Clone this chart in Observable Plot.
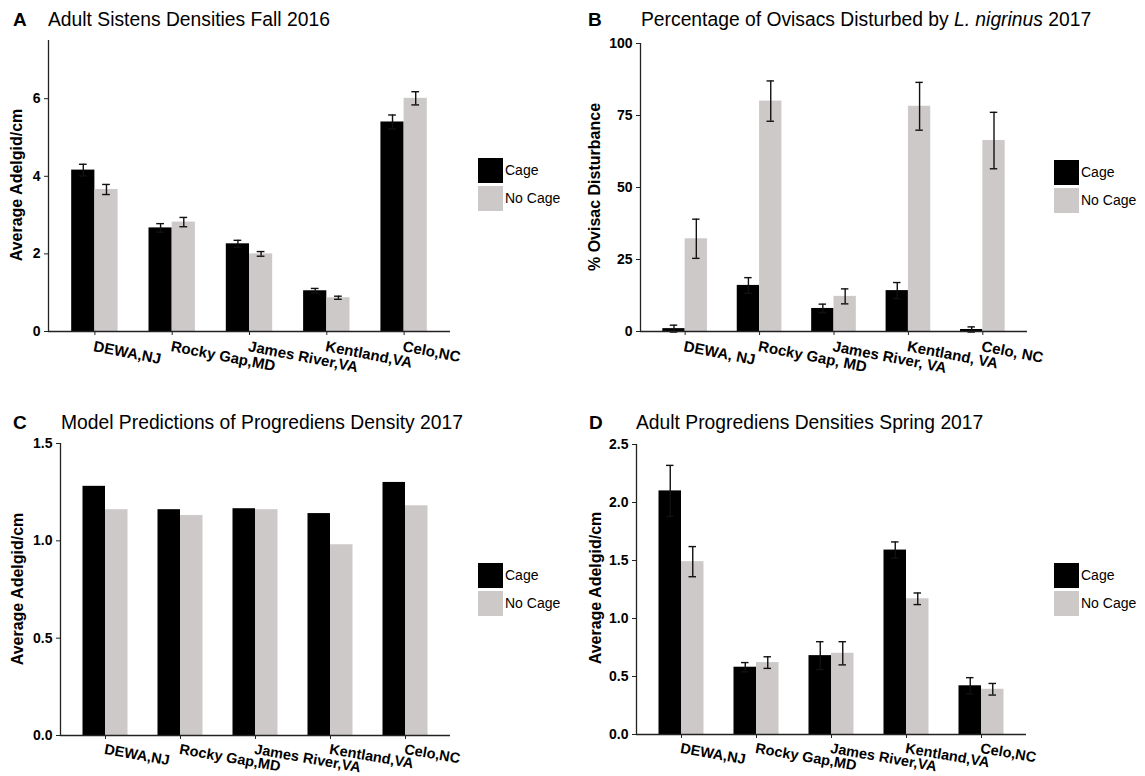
<!DOCTYPE html>
<html><head><meta charset="utf-8">
<script src="https://cdn.jsdelivr.net/npm/d3@7"></script>
<script src="https://cdn.jsdelivr.net/npm/@observablehq/plot@0.6"></script>
<style>
body{margin:0;background:#fff;}
#root{position:relative;width:1145px;height:776px;background:#fff;font-family:"Liberation Sans",Arial,sans-serif;color:#000;overflow:hidden}
.abs{position:absolute;white-space:nowrap}
.letter{font-weight:bold;font-size:19px;line-height:19px}
.title{font-size:19.3px;line-height:19px}
.ylab{font-weight:bold;font-size:16px;line-height:16px;transform:translate(-50%,-50%) rotate(-90deg)}
.key{position:absolute;width:25px;height:25px}
.ltxt{font-size:14px;line-height:25px;height:25px}
.panel{position:absolute}
</style></head><body><div id="root"></div>
<script>
// ---------- data ----------
const treatments = ["Cage", "No Cage"];
const treatmentColors = ["#000000", "#cdc9c9"];
const sitesCompact = ["DEWA,NJ", "Rocky Gap,MD", "James River,VA", "Kentland,VA", "Celo,NC"];
const sitesSpaced = ["DEWA, NJ", "Rocky Gap, MD", "James River, VA", "Kentland, VA", "Celo, NC"];

// A: Adult Sistens Densities Fall 2016
const sistensCage = [4.16, 2.67, 2.26, 1.05, 5.40];
const sistensCageSE = [0.15, 0.11, 0.09, 0.06, 0.18];
const sistensNoCage = [3.66, 2.82, 2.00, 0.87, 6.01];
const sistensNoCageSE = [0.13, 0.12, 0.06, 0.04, 0.17];

// B: Percentage of Ovisacs Disturbed 2017
const ovisacCage = [1.0, 16.0, 8.0, 14.2, 0.7];
const ovisacCageSE = [1.2, 2.7, 1.5, 2.8, 0.9];
const ovisacNoCage = [32.2, 80.0, 12.2, 78.2, 66.3];
const ovisacNoCageSE = [6.8, 7.0, 2.6, 8.3, 9.8];

// C: Model Predictions of Progrediens Density 2017
const modelCage = [1.28, 1.16, 1.165, 1.14, 1.30];
const modelNoCage = [1.16, 1.13, 1.16, 0.98, 1.18];

// D: Adult Progrediens Densities Spring 2017
const progCage = [2.10, 0.58, 0.68, 1.59, 0.42];
const progCageSE = [0.22, 0.04, 0.12, 0.07, 0.07];
const progNoCage = [1.49, 0.62, 0.70, 1.17, 0.39];
const progNoCageSE = [0.13, 0.05, 0.10, 0.05, 0.05];

const yTicksA = [0, 2, 4, 6];
const yTicksB = [0, 25, 50, 75, 100];
const yTicksC = [0, 0.5, 1.0, 1.5];
const yTicksD = [0, 0.5, 1.0, 1.5, 2.0, 2.5];

const titles = [
  {letter: "A", html: "Adult Sistens Densities Fall 2016"},
  {letter: "B", html: "Percentage of Ovisacs Disturbed by <i>L. nigrinus</i> 2017"},
  {letter: "C", html: "Model Predictions of Progrediens Density 2017"},
  {letter: "D", html: "Adult Progrediens Densities Spring 2017"}
];
const yLabels = ["Average Adelgid/cm", "% Ovisac Disturbance", "Average Adelgid/cm", "Average Adelgid/cm"];

// ---------- helpers ----------
function buildRows(sites, cage, noCage, cageSE, noCageSE) {
  return sites.flatMap((s, k) => [
    {site: s, i: k + 1, t: treatments[0], v: cage[k], se: cageSE ? cageSE[k] : null},
    {site: s, i: k + 1, t: treatments[1], v: noCage[k], se: noCageSE ? noCageSE[k] : null}
  ]);
}
const HALF = 0.3, CAP = 0.05;
const left = d => d.t === treatments[0] ? d.i - HALF : d.i;
const right = d => d.t === treatments[0] ? d.i : d.i + HALF;
const center = d => d.t === treatments[0] ? d.i - HALF / 2 : d.i + HALF / 2;

function panel({sites, rows, yDomain, yTicks, yFormat, width, height, ml, mr, mt, mb, labSize, labRot, labDy}) {
  const withSE = rows.filter(d => d.se != null);
  const errStyle = {stroke: "#111", strokeWidth: 1.4};
  return Plot.plot({
    width, height, marginLeft: ml, marginRight: mr, marginTop: mt, marginBottom: mb,
    style: {fontFamily: "Liberation Sans, Arial, sans-serif", color: "#000", background: "transparent", overflow: "visible"},
    x: {type: "linear", domain: [0.4, 5.6], axis: null},
    y: {domain: yDomain, axis: null},
    color: {domain: treatments, range: treatmentColors},
    marks: [
      Plot.rect(rows, {x1: left, x2: right, y1: () => 0, y2: "v", fill: "t"}),
      Plot.ruleX(withSE, {x: center, y1: d => d.v - d.se, y2: d => d.v + d.se, ...errStyle}),
      Plot.ruleY(withSE, {y: d => d.v + d.se, x1: d => center(d) - CAP, x2: d => center(d) + CAP, ...errStyle}),
      Plot.ruleY(withSE, {y: d => d.v - d.se, x1: d => center(d) - CAP, x2: d => center(d) + CAP, ...errStyle}),
      Plot.ruleX([0.4], {stroke: "#222", strokeWidth: 1.3}),
      Plot.ruleY([0], {stroke: "#222", strokeWidth: 1.3}),
      Plot.axisY({ticks: yTicks, tickFormat: yFormat, tickSize: 4, tickPadding: 4, fontWeight: "bold", fontSize: 14, label: null, stroke: "#222"}),
      Plot.axisX({ticks: [1, 2, 3, 4, 5], tickSize: 4, tickFormat: () => "", label: null, stroke: "#222"}),
      Plot.text(sites, {x: (d, k) => k + 1, y: () => 0, text: d => d, dy: labDy, rotate: labRot, textAnchor: "start", lineAnchor: "top", fontWeight: "bold", fontSize: labSize, fill: "#000"})
    ]
  });
}

// ---------- layout ----------
const root = document.getElementById("root");
const fmt1 = d3.format(".1f");
const panels = [
  {left: 0, top: 30, sites: sitesCompact, rows: buildRows(sitesCompact, sistensCage, sistensNoCage, sistensCageSE, sistensNoCageSE),
   yDomain: [0, 7.5], yTicks: yTicksA, yFormat: d3.format("d"), width: 460, height: 355, ml: 48, mr: 10, mt: 10, mb: 54,
   labSize: 15, labRot: 11, labDy: 9,
   letterX: 13, titleX: 48, base: 26, ylab: [17, 185], legX: 478, legY: 158},
  {left: 575, top: 30, sites: sitesSpaced, rows: buildRows(sitesSpaced, ovisacCage, ovisacNoCage, ovisacCageSE, ovisacNoCageSE),
   yDomain: [0, 100], yTicks: yTicksB, yFormat: d3.format("d"), width: 465, height: 355, ml: 65, mr: 13, mt: 13, mb: 54,
   labSize: 15, labRot: 11, labDy: 9,
   letterX: 588, titleX: 641, base: 26, ylab: [595, 187], legX: 1054, legY: 160},
  {left: 0, top: 428, sites: sitesCompact, rows: buildRows(sitesCompact, modelCage, modelNoCage, null, null),
   yDomain: [0, 1.5], yTicks: yTicksC, yFormat: fmt1, width: 460, height: 348, ml: 60, mr: 10, mt: 15, mb: 41,
   labSize: 14.5, labRot: 10, labDy: 8,
   letterX: 13, titleX: 61, base: 429, ylab: [18, 589], legX: 478, legY: 563},
  {left: 575, top: 428, sites: sitesCompact, rows: buildRows(sitesCompact, progCage, progNoCage, progCageSE, progNoCageSE),
   yDomain: [0, 2.5], yTicks: yTicksD, yFormat: fmt1, width: 465, height: 348, ml: 61, mr: 14, mt: 16, mb: 42,
   labSize: 14.5, labRot: 10, labDy: 8,
   letterX: 589, titleX: 636, base: 429, ylab: [596, 588], legX: 1054, legY: 563}
];

panels.forEach((p, n) => {
  const wrap = document.createElement("div");
  wrap.className = "panel";
  wrap.style.left = p.left + "px";
  wrap.style.top = p.top + "px";
  wrap.appendChild(panel(p));
  root.appendChild(wrap);

  const letter = document.createElement("div");
  letter.className = "abs letter";
  letter.textContent = titles[n].letter;
  letter.style.left = p.letterX + "px";
  letter.style.top = (p.base - 0.8465 * 19) + "px";
  root.appendChild(letter);

  const title = document.createElement("div");
  title.className = "abs title";
  title.innerHTML = titles[n].html;
  title.style.left = p.titleX + "px";
  title.style.top = (p.base - 0.8465 * 19.3) + "px";
  root.appendChild(title);

  const yl = document.createElement("div");
  yl.className = "abs ylab";
  yl.textContent = yLabels[n];
  yl.style.left = p.ylab[0] + "px";
  yl.style.top = p.ylab[1] + "px";
  root.appendChild(yl);

  treatments.forEach((t, k) => {
    const key = document.createElement("div");
    key.className = "key";
    key.style.background = treatmentColors[k];
    key.style.left = p.legX + "px";
    key.style.top = (p.legY + k * 28) + "px";
    root.appendChild(key);
    const lt = document.createElement("div");
    lt.className = "abs ltxt";
    lt.textContent = t;
    lt.style.left = (p.legX + 27) + "px";
    lt.style.top = (p.legY + k * 28) + "px";
    root.appendChild(lt);
  });
});
</script></body></html>
